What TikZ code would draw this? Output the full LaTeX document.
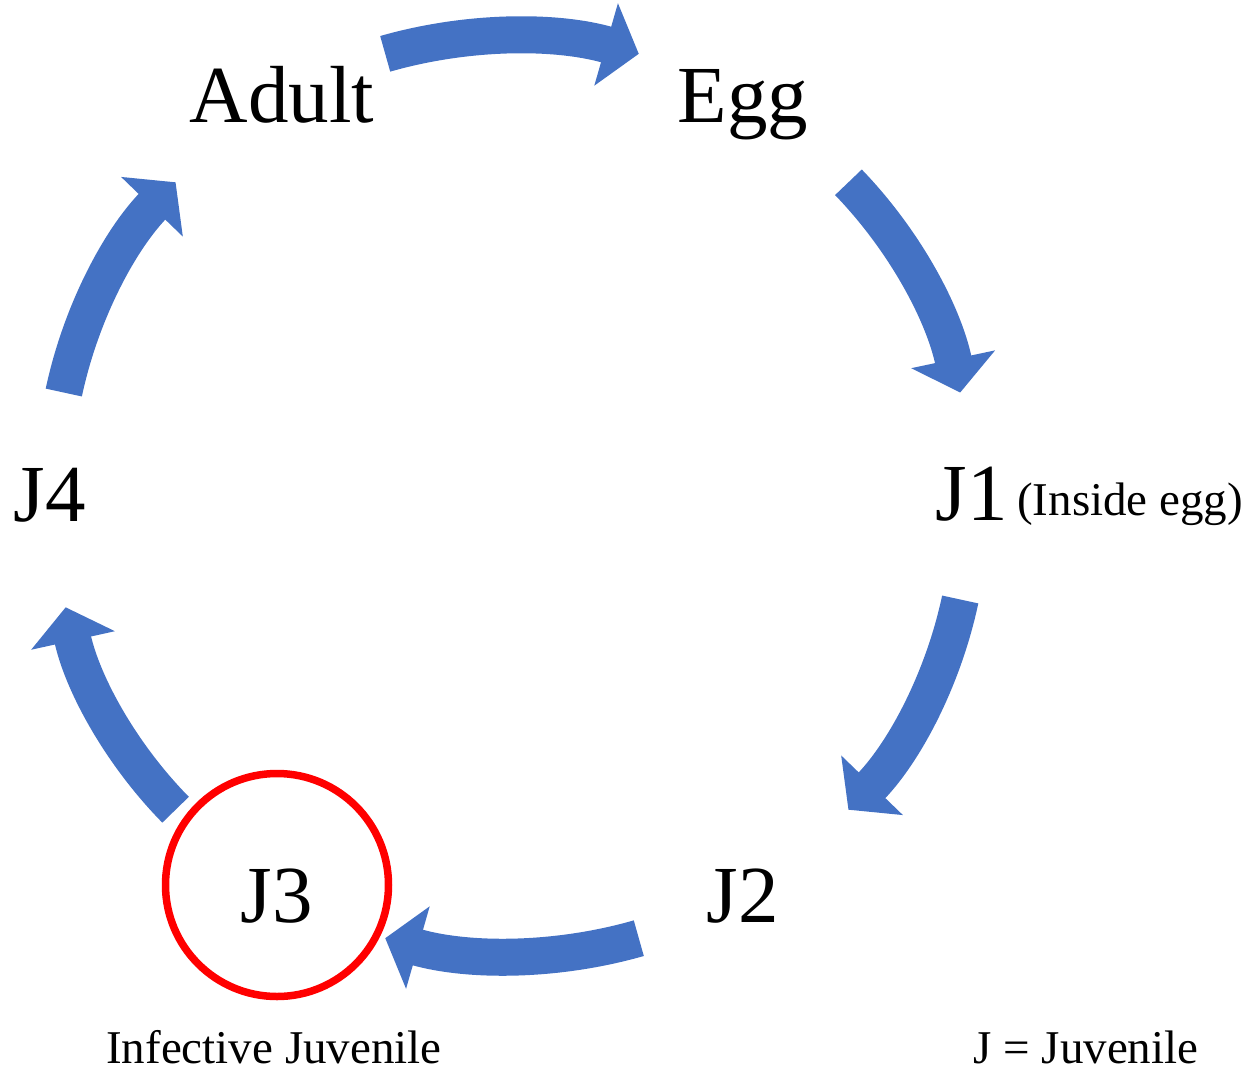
\documentclass[tikz,border=0pt]{standalone}
\usepackage{fontspec}
\setmainfont{Liberation Serif}
\usepackage{tikz}
\usetikzlibrary{arrows.meta}
\definecolor{cycleblue}{RGB}{68,114,196}

\begin{document}
\begin{tikzpicture}
[every node/.style={inner sep=0pt},
stage/.style={anchor=base, font=\fontsize{81pt}{90pt}\selectfont},
note/.style={anchor=base, font=\fontsize{47pt}{56pt}\selectfont},
turn/.style={line width=37pt, color=cycleblue, -{Triangle[length=34pt, width=84pt]}, bend left=16, looseness=0.87}]
\useasboundingbox (0pt, 0pt) rectangle (1253pt, -1072pt);
\node (adult) [stage] at (282pt, -122pt) {Adult};
\node (egg) [stage] at (743pt, -122pt) {Egg};
\node (j1) [stage] at (972pt, -520pt) {J1};
\node (inside) [note, anchor=base west] at (1017pt, -515pt) {(Inside egg)};
\node (j2) [stage] at (743pt, -922pt) {J2};
\node (j3) [circle, minimum size=223pt, line width=7.5pt, draw=red, text height=75pt, text depth=0pt, font=\fontsize{81pt}{90pt}\selectfont] at (277pt, -885pt) {J3};
\node (j4) [stage] at (50pt, -521pt) {J4};
\node (infective) [note] at (274pt, -1063pt) {Infective Juvenile};
\node (key) [note] at (1086pt, -1063pt) {J = Juvenile};
\coordinate (c) at (512pt, -496pt);
\coordinate (adult-egg1) at ([shift={(106:460pt)}]c);
\coordinate (adult-egg2) at ([shift={(74:460pt)}]c);
\coordinate (egg-j1-1) at ([shift={(43:460pt)}]c);
\coordinate (egg-j1-2) at ([shift={(13:460pt)}]c);
\coordinate (j1-j2-1) at ([shift={(-13:460pt)}]c);
\coordinate (j1-j2-2) at ([shift={(-43:460pt)}]c);
\coordinate (j2-j3-1) at ([shift={(-74:460pt)}]c);
\coordinate (j2-j3-2) at ([shift={(-106:460pt)}]c);
\coordinate (j3-j4-1) at ([shift={(-137:460pt)}]c);
\coordinate (j3-j4-2) at ([shift={(-166:460pt)}]c);
\coordinate (j4-adult1) at ([shift={(167:460pt)}]c);
\coordinate (j4-adult2) at ([shift={(137:460pt)}]c);
\draw [turn] (adult-egg1) to (adult-egg2);
\draw [turn] (egg-j1-1) to (egg-j1-2);
\draw [turn] (j1-j2-1) to (j1-j2-2);
\draw [turn] (j2-j3-1) to (j2-j3-2);
\draw [turn] (j3-j4-1) to (j3-j4-2);
\draw [turn] (j4-adult1) to (j4-adult2);
\end{tikzpicture}
\end{document}
